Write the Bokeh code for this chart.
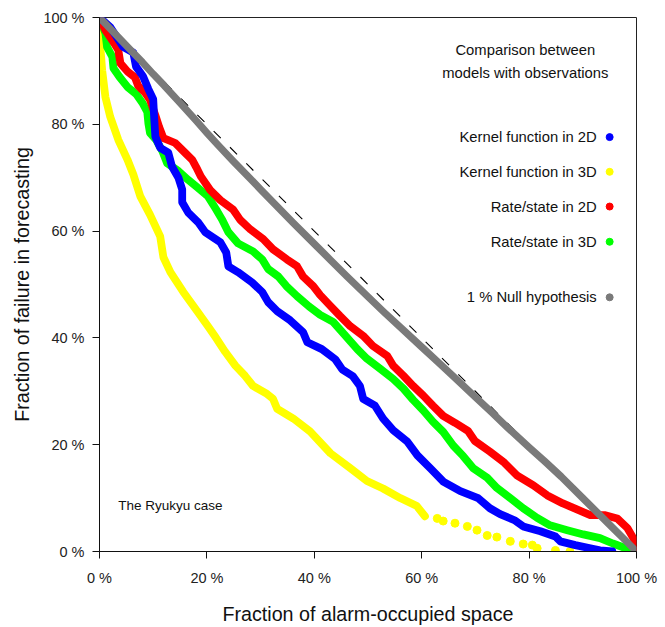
from bokeh.plotting import figure
from bokeh.models import Range1d, FixedTicker, ColumnDataSource
from bokeh.core.properties import value
from bokeh.embed import file_html
from bokeh.resources import INLINE

# ---- data (fractions in %) ----
ticks = [0, 20, 40, 60, 80, 100]
tick_labels = ["0 %", "20 %", "40 %", "60 %", "80 %", "100 %"]

diag_x = [0, 100]
diag_y = [100, 0]

yellow_x = [0, 0.1, 0.5, 1.1, 2.0, 3.5, 5.2, 6.3, 7.6, 9.4, 11.3, 11.9, 13.2, 15.6, 18.2, 20.2, 21.5,
            23.4, 25.3, 27.1, 28.6, 31.2, 32.3, 33.1, 36.1, 39.2, 43.0, 46.7, 49.8, 52.8, 56.0, 59.1, 60.6]
yellow_y = [100, 95.2, 90.1, 85.1, 81.4, 77.1, 73.4, 70.6, 66.5, 63.1, 59.0, 55.1, 52.3, 48.6, 45.0, 42.2, 40.3,
            37.4, 34.8, 32.9, 31.0, 29.5, 28.6, 26.7, 24.9, 22.5, 18.4, 15.6, 13.2, 11.8, 10.0, 8.5, 6.6]
yellow_tail_x = [62.9, 64.0, 66.2, 68.5, 70.3, 72.2, 74.0, 76.5, 78.9, 80.6, 81.5, 84.9, 87.6]
yellow_tail_y = [6.2, 5.7, 5.3, 4.7, 4.0, 3.0, 2.7, 1.9, 1.4, 1.2, 0.6, 0.2, 0.0]

blue_x = [0, 2.0, 4.4, 6.3, 6.8, 8.1, 9.1, 10.0, 10.2, 10.4, 11.3, 12.8, 13.5, 14.7, 15.4, 15.4, 16.5, 18.4,
          19.7, 22.5, 23.6, 24.0, 25.8, 28.4, 30.3, 31.4, 33.1, 35.5, 37.9, 38.7, 41.4, 43.9, 45.2, 47.2,
          48.5, 49.1, 51.3, 52.8, 54.7, 57.3, 59.2, 61.6, 64.0, 67.2, 70.5, 72.7, 74.6, 77.4, 78.9, 82.1,
          84.9, 85.8, 88.6, 91.4, 93.2, 95.5]
blue_y = [100, 98.2, 94.5, 93.4, 90.8, 89.0, 86.6, 84.7, 80.9, 77.7, 75.6, 74.7, 72.1, 70.0, 67.8, 65.4, 63.5, 61.6,
          59.8, 57.9, 56.0, 53.4, 52.3, 50.4, 48.6, 46.7, 45.0, 43.3, 41.1, 39.2, 37.9, 36.0, 34.1, 32.8,
          31.0, 28.6, 27.3, 24.9, 22.7, 20.6, 18.0, 15.6, 13.1, 11.3, 10.0, 8.1, 7.0, 5.8, 4.7, 3.8,
          2.8, 1.9, 1.2, 0.6, 0.2, 0.0]

red_x = [0, 1.1, 2.4, 3.5, 3.9, 5.3, 6.6, 7.2, 8.5, 9.4, 10.4, 11.1, 11.9, 14.1, 16.0, 17.3, 18.0, 18.9, 20.6,
         22.5, 24.9, 26.2, 28.1, 30.5, 32.3, 34.9, 36.8, 37.9, 39.8, 41.1, 42.9, 44.8, 46.7, 49.1, 50.9,
         53.6, 54.7, 56.6, 58.4, 60.3, 62.1, 64.0, 66.2, 68.6, 69.9, 72.7, 75.2, 77.8, 80.8, 83.4, 86.3,
         88.9, 91.4, 94.2, 96.4, 98.3, 99.4, 100, 100]
red_y = [100, 97.6, 95.7, 93.9, 91.4, 89.8, 88.8, 87.2, 85.9, 84.6, 81.7, 79.5, 77.4, 76.5, 74.6, 73.3, 72.0, 70.2, 67.7,
         65.8, 64.0, 62.1, 60.3, 58.5, 56.6, 54.7, 53.4, 51.5, 49.7, 48.0, 46.1, 44.1, 42.2, 40.4, 38.5,
         36.6, 34.8, 32.9, 31.0, 29.2, 27.3, 25.4, 24.1, 22.6, 20.7, 18.7, 16.8, 14.2, 12.4, 10.5, 9.0,
         7.9, 6.8, 6.8, 6.2, 4.4, 2.5, 1.0, 0.0]

green_x = [0, 1.1, 1.4, 2.4, 2.6, 3.7, 5.2, 6.8, 8.0, 8.9, 9.1, 9.4, 10.6, 11.7, 12.6, 14.5, 16.5, 18.2, 20.2,
           21.7, 22.8, 24.0, 25.8, 28.6, 30.3, 31.4, 33.3, 34.8, 36.8, 39.0, 41.1, 43.5, 45.0, 48.0, 49.8,
           52.3, 54.7, 56.6, 58.4, 60.3, 62.1, 64.0, 65.9, 67.7, 69.6, 72.2, 74.0, 76.5, 78.9, 81.5, 83.9,
           87.1, 90.1, 93.2, 95.6, 97.5, 99.2]
green_y = [100, 97.1, 94.5, 92.6, 90.5, 88.9, 87.0, 85.7, 84.0, 82.3, 80.2, 78.4, 77.0, 75.0, 72.7, 71.4, 69.6, 68.2, 66.5,
           64.1, 62.2, 59.8, 57.7, 56.2, 54.7, 52.9, 51.5, 49.7, 47.8, 45.9, 44.3, 43.0, 41.3, 37.9, 36.1,
           34.2, 32.3, 30.5, 28.4, 26.4, 24.3, 22.4, 19.8, 17.9, 15.6, 13.8, 11.9, 10.0, 8.1, 6.3, 4.9,
           4.0, 3.2, 2.5, 1.5, 0.8, 0.2]

gray_x = [0, 2, 4, 6, 8, 10, 12, 15, 18, 20, 22, 25, 28, 30, 33, 36, 40, 43, 46, 50, 53, 56, 60, 63, 66,
          70, 73, 76, 80, 83, 86, 90, 93, 96, 98, 100]
gray_y = [100, 97.9, 95.8, 93.7, 91.6, 89.4, 87.3, 84.0, 80.7, 78.4, 76.2, 73.0, 69.9, 67.8, 64.7, 61.6, 57.6,
          54.6, 51.6, 47.7, 44.8, 42.0, 38.3, 35.5, 32.7, 28.9, 26.1, 23.2, 19.5, 16.8, 14.0, 10.0, 7.0, 4.0, 2.0, 0]

legend_labels = ["Kernel function in 2D", "Kernel function in 3D", "Rate/state in 2D", "Rate/state in 3D",
                 "1 % Null hypothesis"]
legend_colors = ["#0000ff", "#ffff00", "#ff0000", "#00ff00", "#7a7a7a"]
legend_y = [77.6, 71.1, 64.6, 58.0, 47.6]
legend_text_x = [92.6] * 5
legend_dot_x = [95.0] * 5

title_lines = ["Comparison between", "models with observations"]
title_x = [79.3, 79.3]
title_y = [94.0, 89.7]

case_label = ["The Ryukyu case"]
case_x = [3.5]
case_y = [8.6]

# ---- figure ----
FONT = "Liberation Sans"
p = figure(width=660, height=627, x_range=Range1d(0, 100), y_range=Range1d(0, 100),
           output_backend="svg", toolbar_location=None,
           min_border_left=99, min_border_right=24, min_border_top=17, min_border_bottom=74)
p.grid.visible = False
p.outline_line_color = "#222222"
p.outline_line_width = 1
p.background_fill_color = "white"
p.border_fill_color = "white"

for ax in (p.xaxis[0], p.yaxis[0]):
    ax.ticker = FixedTicker(ticks=ticks)
    ax.major_label_overrides = {t: l for t, l in zip(ticks, tick_labels)}
    ax.major_tick_out = 7
    ax.major_tick_in = 0
    ax.minor_tick_line_color = None
    ax.axis_line_color = "#111111"
    ax.major_tick_line_color = "#111111"
    ax.major_label_text_font = FONT
    ax.major_label_text_font_size = "14.5px"
    ax.major_label_text_color = "#222222"
    ax.axis_label_text_font = FONT
    ax.axis_label_text_font_size = "19.7px"
    ax.axis_label_text_font_style = "normal"
    ax.axis_label_text_color = "#111111"

p.xaxis.axis_label = "Fraction of alarm-occupied space"
p.yaxis.axis_label = "Fraction of failure in forecasting"
p.xaxis.major_label_standoff = 11
p.yaxis.major_label_standoff = 8
p.xaxis.axis_label_standoff = 14
p.yaxis.axis_label_standoff = 7

LW = 7.8
p.line(yellow_x, yellow_y, line_color="#ffff00", line_width=LW, line_join="round", line_cap="round")
p.scatter(yellow_tail_x, yellow_tail_y, size=8, color="#ffff00")
p.line(green_x, green_y, line_color="#00ff00", line_width=LW, line_join="round", line_cap="round")
p.line(red_x, red_y, line_color="#ff0000", line_width=LW, line_join="round", line_cap="round")
p.line(blue_x, blue_y, line_color="#0000ff", line_width=LW, line_join="round", line_cap="round")
p.line(diag_x, diag_y, line_color="#000000", line_width=1.1, line_dash="10 13")
p.line(gray_x, gray_y, line_color="#7a7a7a", line_width=7.2, line_join="round", line_cap="round")

leg = ColumnDataSource(dict(x=legend_text_x, dx=legend_dot_x, y=legend_y, t=legend_labels, c=legend_colors))
p.text(x="x", y="y", text="t", source=leg, text_align="right", text_baseline="middle",
       text_font=value(FONT), text_font_size="14.8px", text_color="#111111")
p.scatter(x="dx", y="y", color="c", source=leg, size=7)

p.text(x=title_x, y=title_y, text=title_lines, text_align="center", text_baseline="middle",
       text_font=value(FONT), text_font_size="14.8px", text_color="#111111")
p.text(x=case_x, y=case_y, text=case_label, text_align="left", text_baseline="middle",
       text_font=value(FONT), text_font_size="13.5px", text_color="#111111")

open("out.html", "w").write(file_html(p, INLINE))
